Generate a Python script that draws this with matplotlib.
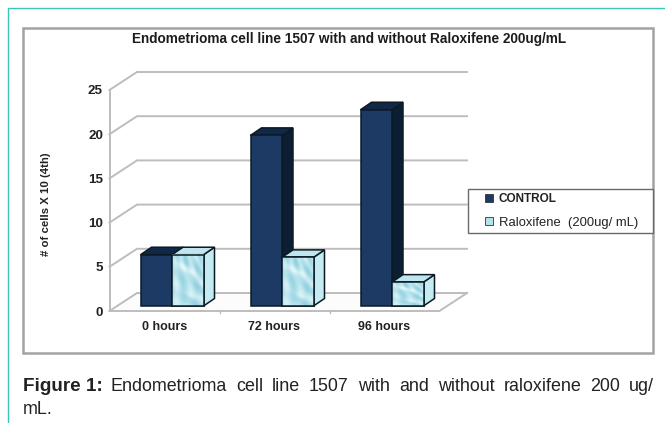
import numpy as np
import matplotlib
matplotlib.use("Agg")
import matplotlib.pyplot as plt
from matplotlib.patches import Polygon, Rectangle, Patch
from matplotlib.lines import Line2D
from matplotlib.colors import LinearSegmentedColormap

categories = ["0 hours", "72 hours", "96 hours"]
control = [5.8, 19.3, 22.2]
raloxifene = [5.8, 5.5, 2.7]
y_ticks = [0, 5, 10, 15, 20, 25]
series_names = ["CONTROL", "Raloxifene  (200ug/ mL)"]
title = "Endometrioma cell line 1507 with and without Raloxifene 200ug/mL"
ylabel = "# of cells X 10 (4th)"
caption_bold = "Figure 1:"
caption_line1 = "Endometrioma cell line 1507 with and without raloxifene 200 ug/"
caption_line2 = "mL."

W, H = 665, 423
plt.rcParams["font.family"] = ["Liberation Sans", "DejaVu Sans"]
fig = plt.figure(figsize=(W / 100, H / 100), dpi=100, facecolor="white")

# page furniture, in pixels
bg = fig.add_axes([0, 0, 1, 1], zorder=0)
bg.set_xlim(0, W); bg.set_ylim(H, 0); bg.axis("off")
bg.add_line(Line2D([7.5, 7.5, W], [H, 8, 8], color="#3cc4b4", lw=1.0))
bg.add_patch(Rectangle((23, 28.5), 630, 324.5, fc="white", ec="#a3a3a3", lw=1.8))
bg.add_patch(Rectangle((468, 189), 185, 44, fc="white", ec="#6a6a6a", lw=1.0, zorder=5))

# chart plane: front face of the 3-D box
PX_L, PX_R, PX_B, PX_T = 109.5, 439.5, 311, 90
ax = fig.add_axes([PX_L / W, 1 - PX_B / H, (PX_R - PX_L) / W, (PX_B - PX_T) / H], zorder=1)
ax.patch.set_alpha(0)
ax.set_xlim(0, 3); ax.set_ylim(0, 25)
ax.axis("off")
px_x = 3 / (PX_R - PX_L)
px_y = 25 / (PX_B - PX_T)
DX, DY = 27.5 * px_x, 18 * px_y        # box depth
PDX, PDY = 7.5 * px_x, 5 * px_y        # where the bars stand inside the box
BDX, BDY = 11 * px_x, 7.5 * px_y       # bar depth
BW = 31.5 * px_x

GRID = "#bdbdbd"
ax.add_patch(Polygon([(0, 0), (3, 0), (3 + DX, DY), (DX, DY)], closed=True, fc="#fcfcfc", ec="none", zorder=1, clip_on=False))
for t in y_ticks:
    ax.plot([0, DX, 3 + DX], [t, t + DY, t + DY], color=GRID, lw=1.4, zorder=2, clip_on=False, solid_joinstyle="miter")
ax.plot([0, 0], [0, 25], color=GRID, lw=1.4, zorder=2, clip_on=False)
ax.plot([0, 3, 3 + DX], [0, 0, DY], color=GRID, lw=1.4, zorder=2, clip_on=False)
for i in range(1, 3):
    ax.plot([i, i], [0, -2 * px_y], color=GRID, lw=1, zorder=2, clip_on=False)

for t in y_ticks:
    ax.text(-6.5 * px_x, t - 1.5 * px_y, str(t), ha="right", va="center", fontsize=9.6, fontweight="bold", color="#222222", clip_on=False)
for i, c in enumerate(categories):
    ax.text(i + 0.5, -9.5 * px_y, c, ha="center", va="top", fontsize=9.0, fontweight="bold", color="#222222", clip_on=False)

NAVY, NAVY_TOP, NAVY_SIDE = "#1c3a63", "#122848", "#0c1e34"
ICE, ICE_TOP, ICE_SIDE = "#b4e2ec", "#bfe6ef", "#c4eaf2"
EDGE = "#0c1a24"

def box(x0, val, front, top, side, z):
    x1 = x0 + BW
    b = PDY
    y1 = b + val
    ax.add_patch(Polygon([(x1, b), (x1 + BDX, b + BDY), (x1 + BDX, y1 + BDY), (x1, y1)], closed=True, fc=side, ec=EDGE, lw=1.1, zorder=z, clip_on=False))
    ax.add_patch(Polygon([(x0, y1), (x0 + BDX, y1 + BDY), (x1 + BDX, y1 + BDY), (x1, y1)], closed=True, fc=top, ec=EDGE, lw=1.1, zorder=z, clip_on=False))
    ax.bar(x0, val, BW, bottom=b, align="edge", color=front, edgecolor=EDGE, lw=1.1, zorder=z + 0.1, clip_on=False)

yy, xx = np.mgrid[0:1:60j, 0:1:60j]
tex = (0.45 + 0.25 * np.sin(11 * xx + 7 * yy) * np.cos(9 * yy - 4 * xx)
       + 0.2 * np.sin(23 * xx * yy + 5 * xx)
       + 0.45 * np.exp(-(((xx - 0.45) / 0.28) ** 2 + ((yy - 0.72 + 0.35 * (xx - 0.45)) / 0.07) ** 2))
       + 0.35 * np.exp(-(((xx - 0.6) / 0.2) ** 2 + ((yy - 0.2 + 0.3 * (xx - 0.6)) / 0.06) ** 2)))
water = LinearSegmentedColormap.from_list("water", ["#92d0de", "#b4e2ec", "#e2f6f9"])

for i in range(3):
    centre = i + 0.5 + PDX
    box(centre - BW, control[i], NAVY, NAVY_TOP, NAVY_SIDE, 3 + i * 2)
    x0 = centre
    box(x0, raloxifene[i], ICE, ICE_TOP, ICE_SIDE, 4 + i * 2)
    ax.imshow(tex, extent=[x0, x0 + BW, PDY, PDY + raloxifene[i]], cmap=water, aspect="auto", vmin=0, vmax=1,
              origin="lower", zorder=4.2 + i * 2, clip_on=False)
    ax.add_patch(Rectangle((x0, PDY), BW, raloxifene[i], fc="none", ec=EDGE, lw=1.1, zorder=4.3 + i * 2, clip_on=False))
ax.set_xlim(0, 3); ax.set_ylim(0, 25)

fig.text(349.5 / W, 1 - 39.5 / H, title, ha="center", va="center", fontsize=9.85, fontweight="bold", color="#1c1c1c")
fig.text(46 / W, 1 - 204.5 / H, ylabel, rotation=90, ha="center", va="center", fontsize=8.2, fontweight="bold", color="#222222")

handles = [Patch(fc=NAVY, ec="#333333", lw=0.6), Patch(fc=ICE, ec="#333333", lw=0.6)]
leg = fig.legend(handles, series_names, loc="upper left", bbox_to_anchor=(485 / W, 1 - 193.5 / H), bbox_transform=fig.transFigure,
                 fontsize=9.4, frameon=False, borderaxespad=0, borderpad=0,
                 handlelength=0.62, handleheight=0.62, handletextpad=0.45, labelspacing=0.85, labelcolor="#222222")
leg.set_zorder(6)
leg.get_texts()[0].set_fontweight("bold")
leg.get_texts()[0].set_fontsize(8.5)

# caption, justified word by word between the frame's edges
CAP = 12.9
fig.text(23 / W, 1 - 386 / H, caption_bold, ha="left", va="center", fontsize=13.6, fontweight="bold", color="#222222")
fig.canvas.draw()
renderer = fig.canvas.get_renderer()
words = [fig.text(0, 1 - 386 / H, w, ha="left", va="center", fontsize=CAP, color="#222222") for w in caption_line1.split()]
widths = [w.get_window_extent(renderer).width for w in words]
start, end = 110.5, 654
gap = (end - start - sum(widths)) / (len(words) - 1)
x = start
for w, wd in zip(words, widths):
    w.set_x(x / W)
    x += wd + gap
fig.text(23 / W, 1 - 409.5 / H, caption_line2, ha="left", va="center", fontsize=CAP, color="#222222")

fig.savefig("out.png", dpi=100)
